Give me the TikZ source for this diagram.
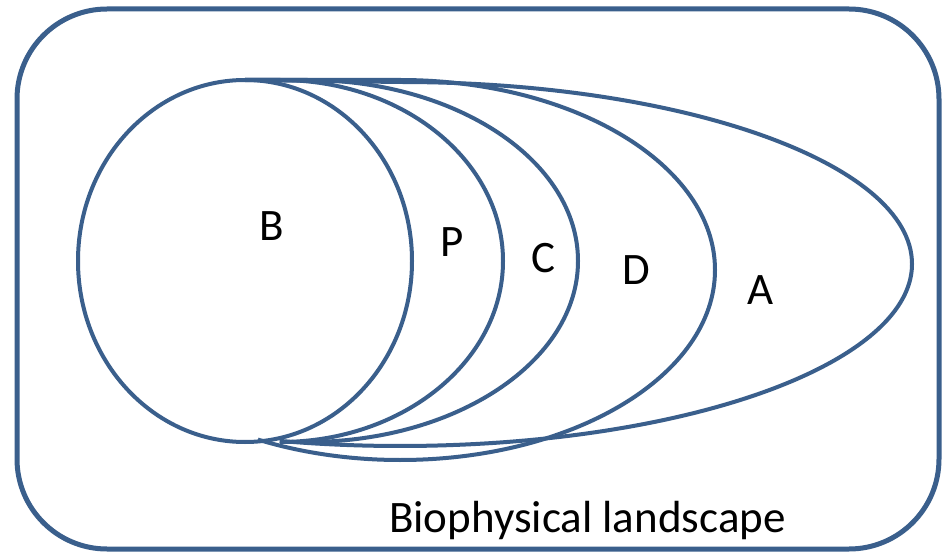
\documentclass[tikz,border=0pt]{standalone}
\usepackage{fontspec}
\setmainfont{Carlito}
\definecolor{edge}{RGB}{58,95,140}
\begin{document}
\begin{tikzpicture}[x=1bp,y=-1bp,
  shapeline/.style={draw=edge, line width=4bp},
  frameline/.style={draw=edge, line width=5bp, rounded corners=90bp},
  lbl/.style={font=\fontsize{45bp}{54bp}\selectfont, inner sep=0pt}]
\useasboundingbox (0,0) rectangle (944,555);
\fill[white] (0,0) rectangle (944,555);
\draw[frameline] (17,9) rectangle (939,549);
% A
\draw[shapeline] (245,80) -- (400,82) arc[start angle=-90, end angle=103.6, x radius=512, y radius=182];
% D
\draw[shapeline] (245,80) -- (400,80) arc[start angle=-90, end angle=116.8, x radius=315, y radius=190];
% C
\draw[shapeline] (245,80) -- (307,80) arc[start angle=-90, end angle=90, x radius=271, y radius=181];
% P
\draw[shapeline] (245,80) -- (280,80) arc[start angle=-90, end angle=90, x radius=223, y radius=181];
% B
\draw[shapeline] (245,261) ellipse[x radius=167, y radius=181];
\node[lbl] (lB) at (272,226) {B};
\node[lbl] (lP) at (452,242) {P};
\node[lbl] (lC) at (543,258) {C};
\node[lbl] (lD) at (636,270) {D};
\node[lbl] (lA) at (761,290) {A};
\node[lbl, anchor=base west] (land) at (389,532) {Biophysical landscape};
\end{tikzpicture}
\end{document}
